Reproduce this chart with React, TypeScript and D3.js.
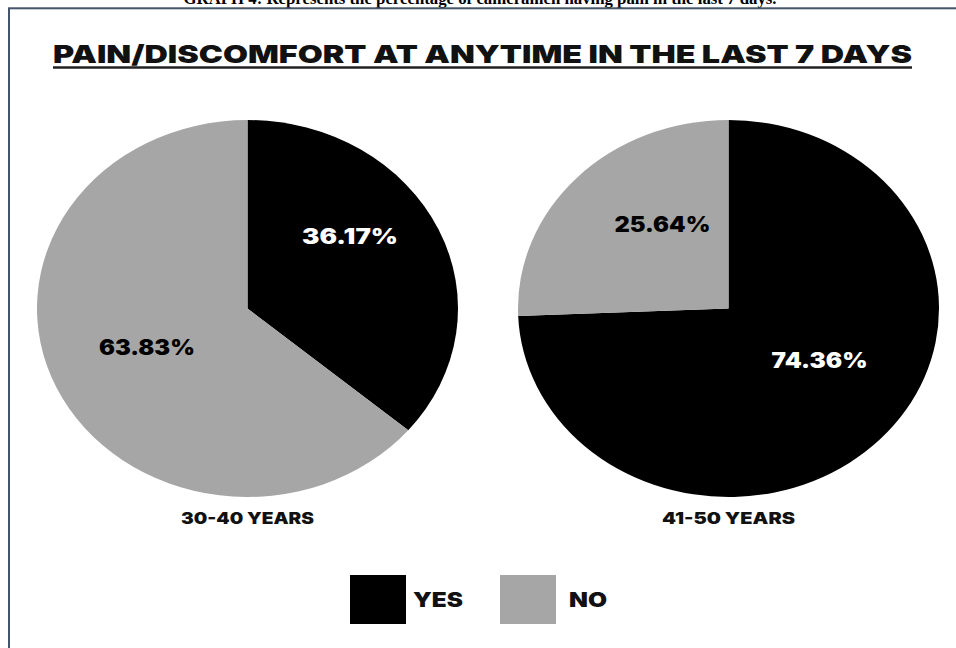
import React from "react";
import * as d3 from "d3";

// ---- data ----
const groups = ["30-40 YEARS", "41-50 YEARS"];
const categories = ["YES", "NO"];
const yesValues = [36.17, 74.36];
const noValues = [63.83, 25.64];
const caption = "GRAPH 4: Represents the percentage of cameramen having pain in the last 7 days.";
const title = "PAIN/DISCOMFORT AT ANYTIME IN THE LAST 7 DAYS";

// ---- styles / layout ----
const W = 956;
const H = 648;
const sliceColors = ["#000000", "#a6a6a6"];
const labelColors = ["#ffffff", "#000000"];
const heavy = "Inter, 'Open Sans', sans-serif";
const rx = 210.5;
const ry = 188.5;
const cy = 308.5;
// small nudges (px) from the slice centroid for each group's labels [YES, NO]
const labelNudges = [
  [[-12, -24], [14, -9]],
  [[0, -26], [25, -6]],
];

export default function App() {
  const x = d3.scalePoint<string>().domain(groups).range([247.5, 728.5]);
  const pie = d3.pie<number>().sort(null).value((d) => d);
  const arc = d3.arc<d3.PieArcDatum<number>>().innerRadius(0).outerRadius(rx);
  const labelArc = d3
    .arc<d3.PieArcDatum<number>>()
    .innerRadius(rx * 0.6)
    .outerRadius(rx * 0.6);
  const k = ry / rx;

  return (
    <div style={{ position: "absolute", left: 0, top: 0, width: W, height: H, background: "#fff" }}>
      <svg width={W} height={H} style={{ display: "block" }}>
        <rect x={0} y={0} width={W} height={H} fill="#ffffff" />
        {/* caption cut at top */}
        <text
          x={480}
          y={4}
          textAnchor="middle"
          fontFamily="'Liberation Serif', 'Times New Roman', serif"
          fontWeight="bold"
          fontSize={16}
          textLength={593}
          lengthAdjust="spacingAndGlyphs"
          fill="#000"
        >
          {caption}
        </text>
        {/* frame */}
        <rect x={9} y={8.3} width={W + 20} height={H + 20} fill="none" stroke="#44546a" strokeWidth={2} />

        {/* title */}
        <text
          x={482.5}
          y={63}
          textAnchor="middle"
          fontFamily={heavy}
          fontWeight={900}
          fontSize={25}
          textLength={859}
          lengthAdjust="spacingAndGlyphs"
          fill="#111"
        >
          {title}
        </text>
        <line x1={53} x2={912} y1={67.5} y2={67.5} stroke="#222" strokeWidth={2.5} />

        {groups.map((g, gi) => {
          const cx = x(g) as number;
          const arcs = pie([yesValues[gi], noValues[gi]]);
          return (
            <g key={g}>
              <g transform={`translate(${cx},${cy}) scale(1,${k})`}>
                {arcs.map((a, i) => (
                  <path key={i} d={arc(a) as string} fill={sliceColors[i]} />
                ))}
              </g>
              {arcs.map((a, i) => {
                const [lx, ly] = labelArc.centroid(a);
                const [nx, ny] = labelNudges[gi][i];
                return (
                  <text
                    key={"l" + i}
                    x={cx + lx + nx}
                    y={cy + ly * k + ny}
                    dy="0.36em"
                    textAnchor="middle"
                    fontFamily={heavy}
                    fontWeight={900}
                    fontSize={21}
                    textLength={96}
                    lengthAdjust="spacingAndGlyphs"
                    fill={labelColors[i]}
                  >
                    {`${a.data.toFixed(2)}%`}
                  </text>
                );
              })}
              <text
                x={cx}
                y={cy + ry + 27}
                textAnchor="middle"
                fontFamily={heavy}
                fontWeight={900}
                fontSize={16}
                textLength={133}
                lengthAdjust="spacingAndGlyphs"
                fill="#111"
              >
                {g}
              </text>
            </g>
          );
        })}

        {/* legend */}
        {categories.map((c, i) => {
          const lx = 350 + i * 150;
          return (
            <g key={c} transform={`translate(${lx},575)`}>
              <rect x={0} y={0} width={56} height={49} fill={sliceColors[i]} />
              <text
                x={i === 0 ? 63 : 69}
                y={25}
                dy="0.36em"
                fontFamily={heavy}
                fontWeight={900}
                fontSize={20}
                textLength={i === 0 ? 50 : 38}
                lengthAdjust="spacingAndGlyphs"
                fill="#111"
              >
                {c}
              </text>
            </g>
          );
        })}
      </svg>
    </div>
  );
}
